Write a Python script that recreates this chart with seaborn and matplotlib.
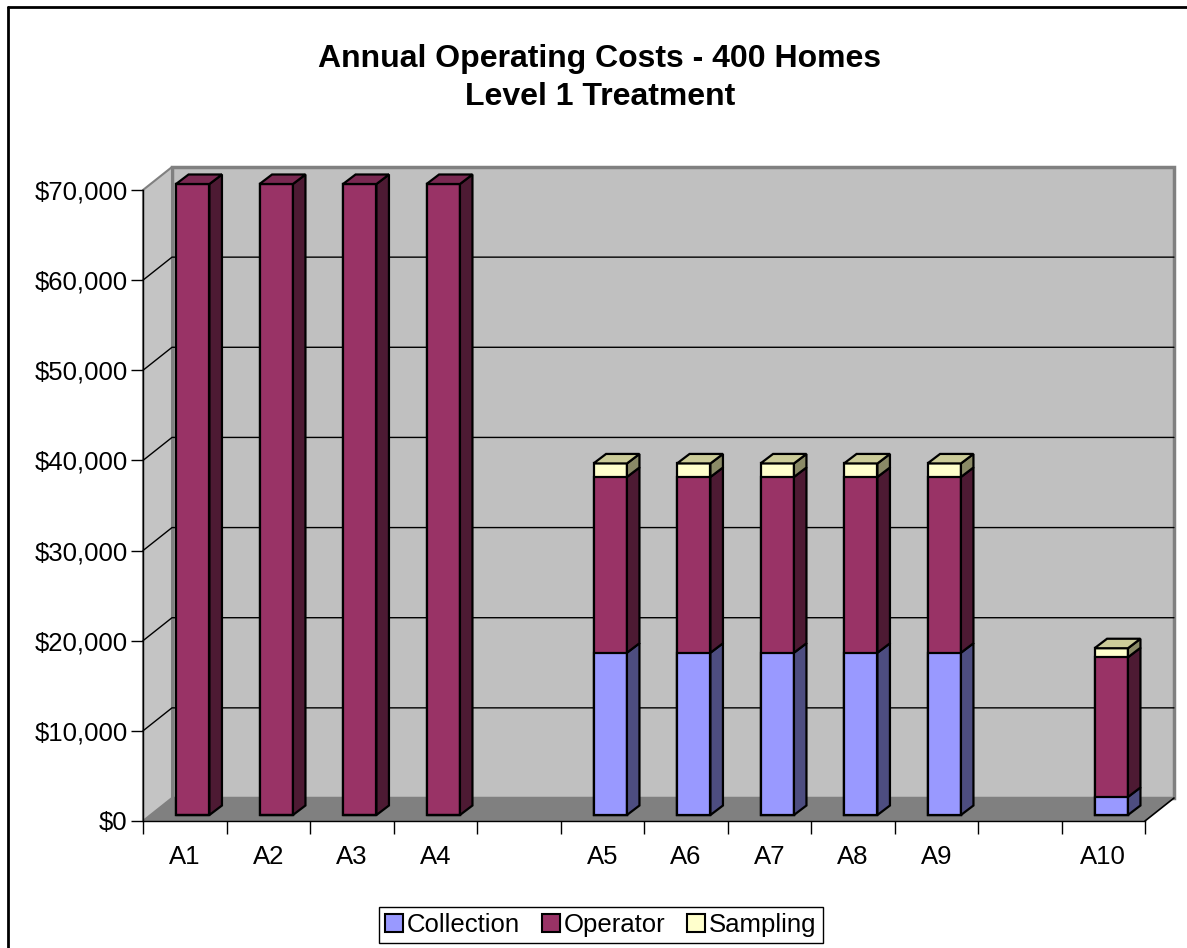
import numpy as np
import matplotlib
matplotlib.use("Agg")
import matplotlib.pyplot as plt
from matplotlib.patches import Polygon, Rectangle, Patch
from matplotlib.lines import Line2D
import seaborn as sns

# category slots (blank slots are the gaps between groups)
slots = ["A1", "A2", "A3", "A4", " ", "A5", "A6", "A7", "A8", "A9", "  ", "A10"]
systems = ["A1", "A2", "A3", "A4", "A5", "A6", "A7", "A8", "A9", "A10"]
collection = [0, 0, 0, 0, 18000, 18000, 18000, 18000, 18000, 2000]
operator = [70000, 70000, 70000, 70000, 19500, 19500, 19500, 19500, 19500, 15500]
sampling = [0, 0, 0, 0, 1500, 1500, 1500, 1500, 1500, 1000]
series_names = ["Collection", "Operator", "Sampling"]
y_ticks = [0, 10000, 20000, 30000, 40000, 50000, 60000, 70000]

front_colors = ["#9999FF", "#993366", "#FFFFCC"]
side_colors = ["#4D4D80", "#4D1A33", "#8A8A66"]
top_colors = ["#7A7ACC", "#7A2952", "#CCCC99"]

W, H = 1187, 948


def box(x0, y0, x1, y1):
    # pixel box (top-left origin) -> figure rect
    return [x0 / W, 1 - y1 / H, (x1 - x0) / W, (y1 - y0) / H]


sns.set_style("white")
plt.rcParams["font.family"] = ["Liberation Sans", "DejaVu Sans"]
plt.rcParams["text.color"] = "black"
plt.rcParams["xtick.color"] = "black"
plt.rcParams["ytick.color"] = "black"

fig = plt.figure(figsize=(W / 100, H / 100), dpi=100)

# front plane of the 3d box and the plane the bars sit on
ax_bg = fig.add_axes(box(143, 190, 1145, 821))
ax = fig.add_axes(box(151, 184, 1153, 815))

ymax = 70000
unit_x = 1002 / len(slots)
unit_y = 631 / ymax
ox, oy = 29 / unit_x, 23 / unit_y       # depth of the walls
bdx, bdy = 12.5 / unit_x, 9.5 / unit_y  # depth of the bars

for a in (ax_bg, ax):
    a.set_xlim(-0.5, len(slots) - 0.5)
    a.set_ylim(0, ymax)
    a.set_facecolor("none")

x0, x1 = -0.5, len(slots) - 0.5
# back wall
ax_bg.add_patch(Rectangle((x0 + ox, oy), x1 - x0, ymax, facecolor="#C0C0C0",
                          edgecolor="#808080", linewidth=2.5, clip_on=False, zorder=0))
# left wall
ax_bg.add_patch(Polygon([(x0, 0), (x0, ymax), (x0 + ox, ymax + oy), (x0 + ox, oy)],
                        closed=True, facecolor="#C4C4C4", edgecolor="#808080",
                        linewidth=1.5, clip_on=False, zorder=0.5))
# gridlines (the top one is the wall border)
for v in y_ticks[1:-1]:
    ax_bg.plot([x0, x0 + ox, x1 + ox], [v, v + oy, v + oy], color="black",
               linewidth=1, clip_on=False, zorder=1)
# floor
ax_bg.add_patch(Polygon([(x0, 0), (x1, 0), (x1 + ox, oy), (x0 + ox, oy)],
                        closed=True, facecolor="#808080", edgecolor="none",
                        clip_on=False, zorder=2))
ax_bg.plot([x1, x1 + ox], [0, oy], color="black", linewidth=1.2, clip_on=False, zorder=3)

for side in ("top", "right"):
    ax_bg.spines[side].set_visible(False)
for side in ("left", "bottom"):
    ax_bg.spines[side].set_color("black")
    ax_bg.spines[side].set_linewidth(1)
    ax_bg.spines[side].set_zorder(4)

ax_bg.set_yticks(y_ticks)
ax_bg.set_yticklabels([f"${v:,}" for v in y_ticks])
ax_bg.set_xticks(range(len(slots)))
ax_bg.set_xticklabels(slots)
ax_bg.set_xticks(np.arange(-0.5, len(slots), 1), minor=True)
ax_bg.tick_params(axis="y", left=True, length=9, width=1, color="black",
                  pad=2, labelsize=18.5)
ax_bg.tick_params(axis="x", which="major", bottom=True, length=0, pad=17, labelsize=18.5)
ax_bg.tick_params(axis="x", which="minor", bottom=True, length=9, width=1, color="black")

# stacked bars: cumulative totals drawn largest first
c = np.array(collection)
o = np.array(operator)
s = np.array(sampling)
layers = [c + o + s, c + o, c]
for vals, col in zip(layers, front_colors[::-1]):
    sns.barplot(x=systems, y=vals, order=slots, color=col, saturation=1, width=0.4,
                edgecolor="black", linewidth=1.6, errorbar=None, ax=ax)
for p in ax.patches:
    p.set_clip_on(False)

# 3d sides and tops
half = 0.2
for i, name in enumerate(systems):
    pos = slots.index(name)
    segs = [collection[i], operator[i], sampling[i]]
    bottom = 0
    top_k = max(k for k in range(3) if segs[k] > 0)
    for k, h in enumerate(segs):
        if h <= 0:
            continue
        t = bottom + h
        xr = pos + half
        ax.add_patch(Polygon([(xr, bottom), (xr + bdx, bottom + bdy), (xr + bdx, t + bdy), (xr, t)],
                             closed=True, facecolor=side_colors[k], edgecolor="black",
                             linewidth=1.6, clip_on=False, zorder=3))
        if k == top_k:
            xl = pos - half
            ax.add_patch(Polygon([(xl, t), (xr, t), (xr + bdx, t + bdy), (xl + bdx, t + bdy)],
                                 closed=True, facecolor=top_colors[k], edgecolor="black",
                                 linewidth=1.6, clip_on=False, zorder=3))
        bottom = t

ax.set_xlim(-0.5, len(slots) - 0.5)
ax.set_ylim(0, ymax)
ax.axis("off")

fig.text(600 / W, 1 - 78 / H, "Annual Operating Costs - 400 Homes\nLevel 1 Treatment",
         ha="center", va="center", fontsize=23, fontweight="bold", linespacing=1.38,
         color="black")

handles = [Patch(facecolor=fc, edgecolor="black", linewidth=1.5, label=n)
           for fc, n in zip(front_colors, series_names)]
leg = fig.legend(handles=handles, loc="center", bbox_to_anchor=(601 / W, 1 - 925 / H),
                 ncol=3, fontsize=18.5, frameon=True, fancybox=False, edgecolor="black",
                 framealpha=1, handlelength=0.7, handleheight=0.7, handletextpad=0.15,
                 columnspacing=0.85, borderpad=0.25, borderaxespad=0)
leg.get_frame().set_linewidth(1)

# chart area border (top and left only visible)
fig.add_artist(Line2D([8 / W, 1], [1 - 7 / H, 1 - 7 / H], color="black", linewidth=2))
fig.add_artist(Line2D([8 / W, 8 / W], [0, 1 - 7 / H], color="black", linewidth=2))

fig.savefig("out.png", dpi=100)
